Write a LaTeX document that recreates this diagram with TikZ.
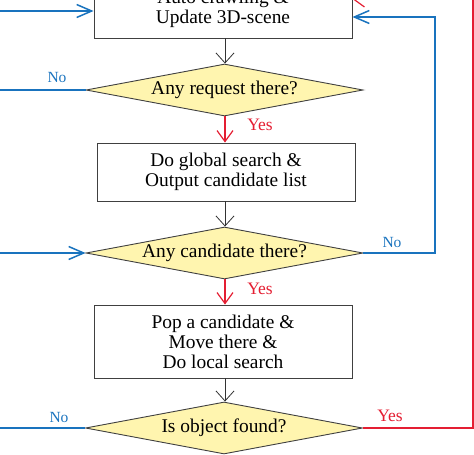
\documentclass[tikz,border=0pt]{standalone}
\usepackage{fontspec}
\setmainfont{Liberation Serif}
\usepackage{tikz}
\usetikzlibrary{arrows.meta}
\usetikzlibrary{shapes}
\usetikzlibrary{positioning}
\definecolor{flowblue}{RGB}{25,115,190}
\definecolor{flowred}{RGB}{228,30,50}
\definecolor{flowyellow}{RGB}{255,245,175}

\tikzset{
  stepbox/.style={draw=black!75, line width=0.9pt, fill=white, minimum width=258pt,
    minimum height=58pt, align=center, inner sep=0pt,
    font=\fontsize{19.4}{20}\selectfont},
  askbox/.style={diamond, draw=black!75, line width=0.9pt, fill=flowyellow, aspect=5.3,
    minimum width=277pt, minimum height=52pt, inner sep=0pt,
    font=\fontsize{19.4}{20}\selectfont},
  nolabel/.style={text=flowblue, font=\fontsize{15.5}{16}\selectfont},
  yeslabel/.style={text=flowred, font=\fontsize{17.5}{18}\selectfont},
  goline/.style={draw=black!80, line width=0.8pt, -{Straight Barb[length=10pt,width=18pt]}},
  yesline/.style={draw=flowred, line width=1.2pt},
  noline/.style={draw=flowblue, line width=1.5pt},
  tipred/.style={-{Straight Barb[length=11pt,width=16pt]}},
  tipblue/.style={-{Straight Barb[length=15pt,width=13pt]}}
}

\begin{document}
\begin{tikzpicture}[x=1pt, y=-1pt]
      \useasboundingbox (0,0) rectangle (474,455);
      \clip (0,0) rectangle (474,455);

      % boxes and questions
      \node[stepbox] (crawl) at (223,9) {Auto crawling \&\\Update 3D-scene};
      \node[askbox]  (req)   at (224.5,90) {Any request there?};
      \node[stepbox] (glob)  at (226,172) {Do global search \&\\Output candidate list};
      \node[askbox]  (cand)  at (224.5,253) {Any candidate there?};
      \node[stepbox, minimum height=73pt] (pop) at (223,341.5)
        {Pop a candidate \&\\Move there \&\\Do local search};
      \node[askbox]  (found) at (224,428) {Is object found?};

      % ends outside the picture
      \coordinate (inA)  at (-5,11);
      \coordinate (outA) at (-5,90);
      \coordinate (inB)  at (-5,253);
      \coordinate (outC) at (-5,428);
      \coordinate (loopB) at (435,17);
      \coordinate (loopY) at (473,-1);

      % main flow
      \draw[goline] (crawl.south -| 225,0) -- (req.north -| 225,0);
      \draw[goline] (glob.south -| 225,0) -- (cand.north -| 225,0);
      \draw[goline] (pop.south -| 225,0) -- (found.north -| 225,0);
      \draw[yesline, tipred] (req.south -| 225,0) -- (glob.north -| 225,0);
      \draw[yesline, tipred] (cand.south -| 225,0) -- (pop.north -| 225,0);

      % loops
      \draw[noline, tipblue] (inA) -- (crawl.west |- inA);
      \draw[noline] (req.west) -- (outA);
      \draw[noline, tipblue] (inB) -- (cand.west);
      \draw[noline] (found.west) -- (outC);
      \draw[noline, tipblue] (cand.east) -| (loopB) -- (crawl.east |- loopB);
      \draw[yesline, tipred] (found.east) -| (loopY) -- (crawl.east |- loopY);

      % labels
      \node[nolabel]  (noA)  at (57,77) {No};
      \node[yeslabel] (yesA) at (260,125) {Yes};
      \node[nolabel]  (noB)  at (392,242) {No};
      \node[yeslabel] (yesB) at (260,289) {Yes};
      \node[nolabel]  (noC)  at (59,417) {No};
      \node[yeslabel] (yesC) at (390,416) {Yes};
    \end{tikzpicture}
\end{document}
